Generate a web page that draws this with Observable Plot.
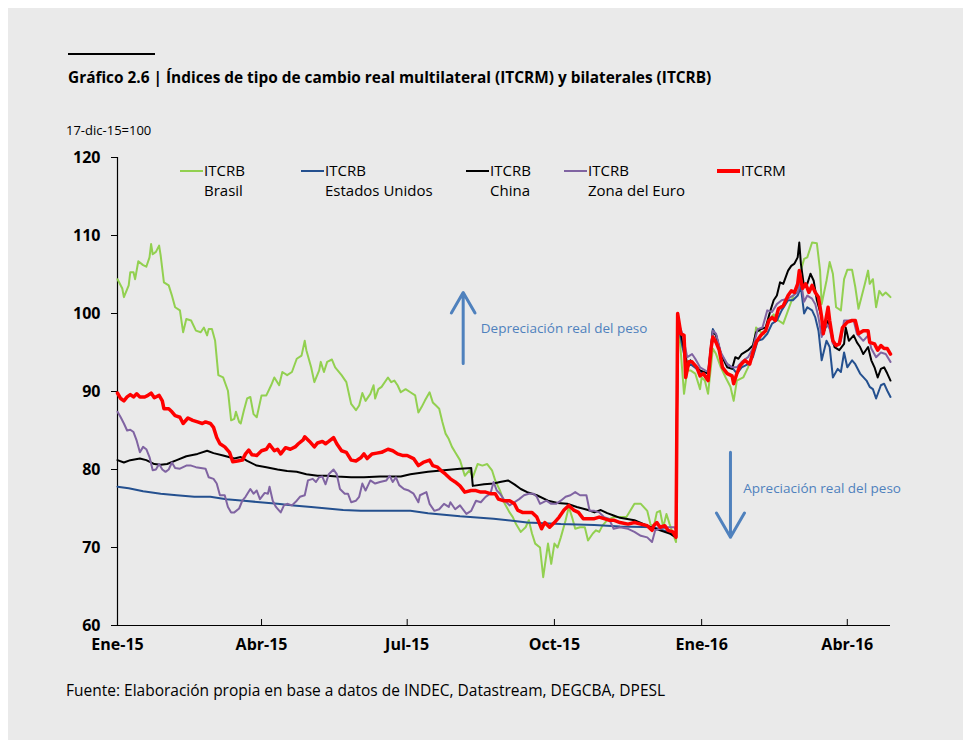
<!DOCTYPE html>
<html>
<head>
<meta charset="utf-8">
<script src="https://cdn.jsdelivr.net/npm/d3@7"></script>
<script src="https://cdn.jsdelivr.net/npm/@observablehq/plot@0.6"></script>
<style>
  html, body { margin: 0; padding: 0; background: #ffffff; }
  body { width: 963px; height: 740px; position: relative; overflow: hidden; font-family: "Open Sans", Lato, sans-serif; color: #000; }
  #panel { position: absolute; left: 8px; top: 8px; right: 0; bottom: 0; background: #eaeaea; }
  .abs { position: absolute; white-space: nowrap; }
  #rule { left: 68px; top: 53px; width: 87px; height: 2px; background: #000; }
  #title { left: 68px; top: 67px; font-size: 15.4px; font-weight: bold; line-height: 22px; }
  #unit { left: 66px; top: 120px; font-size: 13px; line-height: 20px; }
  #source { left: 66px; top: 679px; font-size: 15.5px; line-height: 22px; }
  #chart { position: absolute; left: 0; top: 110px; }
  .sw { position: absolute; height: 2px; width: 23px; }
  .lt { position: absolute; font-size: 15px; line-height: 20px; white-space: nowrap; }
</style>
</head>
<body>
<div id="panel"></div>
<div id="rule" class="abs"></div>
<div id="title" class="abs">Gráfico 2.6 | Índices de tipo de cambio real multilateral (ITCRM) y bilaterales (ITCRB)</div>
<div id="unit" class="abs">17-dic-15=100</div>
<div id="chart"></div>
<div id="legend"></div>
<div id="source" class="abs">Fuente: Elaboración propia en base a datos de INDEC, Datastream, DEGCBA, DPESL</div>
<script>
// ---- Data ----
const tickDates = ["2015-01-01","2015-04-01","2015-07-01","2015-10-01","2016-01-01","2016-04-01"];
const tickLabels = ["Ene-15","Abr-15","Jul-15","Oct-15","Ene-16","Abr-16"];
const yTicks = [60,70,80,90,100,110,120];

const seriesNames = ["ITCRB\nBrasil","ITCRB\nEstados Unidos","ITCRB\nChina","ITCRB\nZona del Euro","ITCRM"];

const brasil = [["2015-01-01",104.4],["2015-01-04",103.2],["2015-01-05",102.1],["2015-01-08",103.6],["2015-01-09",105.3],["2015-01-11",105.3],["2015-01-12",104.4],["2015-01-14",106.7],["2015-01-17",106.2],["2015-01-19",106.0],["2015-01-21",107.2],["2015-01-22",108.9],["2015-01-23",107.6],["2015-01-25",107.9],["2015-01-27",108.7],["2015-01-28",107.4],["2015-01-30",104.0],["2015-02-02",103.6],["2015-02-04",102.3],["2015-02-06",100.8],["2015-02-09",100.4],["2015-02-11",97.6],["2015-02-13",99.3],["2015-02-16",99.1],["2015-02-19",97.8],["2015-02-22",97.6],["2015-02-24",98.2],["2015-02-26",97.2],["2015-02-27",98.0],["2015-03-01",98.0],["2015-03-03",96.5],["2015-03-05",92.1],["2015-03-08",91.8],["2015-03-11",90.1],["2015-03-13",86.3],["2015-03-15",86.5],["2015-03-16",87.4],["2015-03-18",86.1],["2015-03-19",85.9],["2015-03-21",87.6],["2015-03-23",89.1],["2015-03-25",89.3],["2015-03-27",87.1],["2015-03-29",86.7],["2015-04-01",89.5],["2015-04-04",89.5],["2015-04-07",90.8],["2015-04-09",91.8],["2015-04-12",90.8],["2015-04-14",92.5],["2015-04-17",92.1],["2015-04-20",92.5],["2015-04-23",94.2],["2015-04-26",94.6],["2015-04-28",96.5],["2015-04-29",95.3],["2015-05-02",93.1],["2015-05-04",91.2],["2015-05-07",92.7],["2015-05-08",93.8],["2015-05-10",92.5],["2015-05-12",93.8],["2015-05-15",94.1],["2015-05-17",93.1],["2015-05-21",92.1],["2015-05-24",91.2],["2015-05-27",88.4],["2015-05-30",87.6],["2015-06-01",88.2],["2015-06-03",89.8],["2015-06-05",88.8],["2015-06-08",89.7],["2015-06-10",90.8],["2015-06-11",89.1],["2015-06-13",90.3],["2015-06-15",90.6],["2015-06-19",91.8],["2015-06-21",91.2],["2015-06-23",91.4],["2015-06-25",90.8],["2015-06-27",89.9],["2015-06-30",90.3],["2015-07-03",89.9],["2015-07-06",89.5],["2015-07-08",87.3],["2015-07-10",88.0],["2015-07-12",88.8],["2015-07-15",89.9],["2015-07-17",88.6],["2015-07-19",88.2],["2015-07-21",87.8],["2015-07-23",86.1],["2015-07-25",84.6],["2015-07-27",83.9],["2015-07-29",82.9],["2015-07-31",82.2],["2015-08-03",81.2],["2015-08-06",79.2],["2015-08-09",79.9],["2015-08-11",79.0],["2015-08-14",80.7],["2015-08-17",80.5],["2015-08-20",80.7],["2015-08-23",79.9],["2015-08-25",78.6],["2015-08-28",77.3],["2015-08-31",75.6],["2015-09-03",74.5],["2015-09-05",73.9],["2015-09-07",73.0],["2015-09-10",72.0],["2015-09-13",72.6],["2015-09-15",73.5],["2015-09-17",71.8],["2015-09-19",70.5],["2015-09-22",70.0],["2015-09-24",66.2],["2015-09-27",70.5],["2015-09-29",67.9],["2015-10-01",70.5],["2015-10-03",70.0],["2015-10-05",71.3],["2015-10-08",73.5],["2015-10-10",75.2],["2015-10-12",73.9],["2015-10-14",72.4],["2015-10-17",72.6],["2015-10-20",72.6],["2015-10-22",70.9],["2015-10-25",71.8],["2015-10-27",72.2],["2015-10-29",72.0],["2015-10-31",72.8],["2015-11-03",73.5],["2015-11-07",73.9],["2015-11-11",73.9],["2015-11-15",73.9],["2015-11-20",75.6],["2015-11-24",75.6],["2015-11-28",74.7],["2015-11-30",73.0],["2015-12-02",72.6],["2015-12-04",74.5],["2015-12-06",74.7],["2015-12-08",72.6],["2015-12-10",74.3],["2015-12-12",73.0],["2015-12-14",71.8],["2015-12-16",70.7],["2015-12-17",100.0],["2015-12-19",95.0],["2015-12-21",89.7],["2015-12-23",92.7],["2015-12-25",92.7],["2015-12-28",92.3],["2015-12-31",90.3],["2016-01-01",91.8],["2016-01-03",91.4],["2016-01-05",89.7],["2016-01-08",95.5],["2016-01-10",94.8],["2016-01-13",93.1],["2016-01-16",91.8],["2016-01-19",90.6],["2016-01-21",88.8],["2016-01-23",91.4],["2016-01-27",91.8],["2016-01-30",93.1],["2016-02-02",94.8],["2016-02-04",98.2],["2016-02-07",97.6],["2016-02-09",97.4],["2016-02-12",99.1],["2016-02-15",99.9],["2016-02-18",99.1],["2016-02-21",98.7],["2016-02-24",100.4],["2016-02-27",102.1],["2016-03-01",103.4],["2016-03-03",105.5],["2016-03-05",107.0],["2016-03-07",107.2],["2016-03-10",109.1],["2016-03-13",109.0],["2016-03-15",105.5],["2016-03-16",101.2],["2016-03-19",104.2],["2016-03-21",106.6],["2016-03-23",105.1],["2016-03-25",100.8],["2016-03-28",100.4],["2016-03-30",104.4],["2016-04-01",105.6],["2016-04-04",105.6],["2016-04-06",103.4],["2016-04-08",100.6],["2016-04-12",103.8],["2016-04-14",105.5],["2016-04-15",103.8],["2016-04-17",104.4],["2016-04-19",100.8],["2016-04-21",102.9],["2016-04-23",102.3],["2016-04-25",102.7],["2016-04-27",102.3],["2016-04-28",102.1]];

const estadosUnidos = [["2015-01-01",77.8],["2015-01-08",77.6],["2015-01-17",77.2],["2015-01-28",76.9],["2015-02-07",76.7],["2015-02-18",76.5],["2015-02-28",76.5],["2015-03-10",76.2],["2015-03-21",76.0],["2015-03-31",75.8],["2015-04-11",75.6],["2015-04-21",75.4],["2015-05-02",75.2],["2015-05-12",75.0],["2015-05-22",74.8],["2015-06-02",74.7],["2015-07-03",74.7],["2015-07-14",74.4],["2015-08-03",74.0],["2015-08-24",73.7],["2015-09-14",73.2],["2015-10-05",73.0],["2015-10-26",72.9],["2015-11-11",72.7],["2015-12-02",72.6],["2015-12-11",72.0],["2015-12-16",71.3],["2015-12-17",99.0],["2015-12-20",95.7],["2015-12-23",93.1],["2015-12-25",93.5],["2015-12-29",92.9],["2016-01-02",92.3],["2016-01-05",91.8],["2016-01-08",98.0],["2016-01-10",97.2],["2016-01-13",94.8],["2016-01-17",93.5],["2016-01-20",93.1],["2016-01-23",92.3],["2016-01-26",93.1],["2016-01-30",93.5],["2016-02-02",94.4],["2016-02-05",96.5],["2016-02-08",96.7],["2016-02-11",97.4],["2016-02-14",98.7],["2016-02-17",99.1],["2016-02-20",100.4],["2016-02-24",101.7],["2016-02-27",101.7],["2016-03-01",102.3],["2016-03-03",103.4],["2016-03-05",100.0],["2016-03-07",100.8],["2016-03-10",100.4],["2016-03-12",99.5],["2016-03-14",97.8],["2016-03-16",94.0],["2016-03-19",96.5],["2016-03-21",95.7],["2016-03-23",91.8],["2016-03-26",92.9],["2016-03-28",92.5],["2016-03-30",95.0],["2016-04-01",93.1],["2016-04-04",94.0],["2016-04-06",93.5],["2016-04-09",92.3],["2016-04-13",91.4],["2016-04-15",90.6],["2016-04-17",90.3],["2016-04-19",89.1],["2016-04-22",90.8],["2016-04-24",91.0],["2016-04-26",90.1],["2016-04-28",89.3]];

const china = [["2015-01-01",81.2],["2015-01-05",80.9],["2015-01-09",81.2],["2015-01-15",81.4],["2015-01-19",81.2],["2015-01-24",80.7],["2015-01-28",80.6],["2015-02-01",80.7],["2015-02-07",81.2],["2015-02-13",81.7],["2015-02-20",82.0],["2015-02-26",82.4],["2015-03-02",82.1],["2015-03-08",81.8],["2015-03-15",81.4],["2015-03-19",81.6],["2015-03-23",81.1],["2015-03-29",80.5],["2015-04-04",80.3],["2015-04-11",80.0],["2015-04-17",79.8],["2015-04-23",79.7],["2015-04-29",79.4],["2015-05-06",79.2],["2015-05-12",79.2],["2015-05-18",79.1],["2015-05-27",79.0],["2015-06-04",79.0],["2015-06-14",79.1],["2015-06-27",79.1],["2015-07-03",79.4],["2015-07-14",79.7],["2015-07-24",79.9],["2015-08-03",80.1],["2015-08-10",80.2],["2015-08-11",77.9],["2015-08-18",78.1],["2015-08-24",78.2],["2015-08-28",78.4],["2015-09-02",78.6],["2015-09-06",78.1],["2015-09-10",77.5],["2015-09-14",77.1],["2015-09-20",76.7],["2015-09-27",76.0],["2015-10-03",75.7],["2015-10-09",75.6],["2015-10-15",75.2],["2015-10-22",74.8],["2015-10-26",74.5],["2015-10-30",74.8],["2015-11-03",74.4],["2015-11-07",74.1],["2015-11-11",73.8],["2015-11-20",73.5],["2015-11-28",72.8],["2015-12-06",72.2],["2015-12-12",71.8],["2015-12-16",71.3],["2015-12-17",99.1],["2015-12-20",96.5],["2015-12-23",93.5],["2015-12-25",94.0],["2015-12-28",93.3],["2015-12-31",92.7],["2016-01-05",92.3],["2016-01-08",97.8],["2016-01-10",97.2],["2016-01-13",94.8],["2016-01-17",93.1],["2016-01-20",92.9],["2016-01-22",94.4],["2016-01-24",94.2],["2016-01-26",94.8],["2016-01-30",95.3],["2016-02-02",95.9],["2016-02-04",97.6],["2016-02-07",98.0],["2016-02-10",98.2],["2016-02-13",100.4],["2016-02-15",101.7],["2016-02-17",102.3],["2016-02-19",104.0],["2016-02-21",103.8],["2016-02-24",105.5],["2016-02-26",106.1],["2016-02-28",106.4],["2016-03-01",107.2],["2016-03-02",109.1],["2016-03-03",106.4],["2016-03-05",103.4],["2016-03-07",103.8],["2016-03-09",105.1],["2016-03-11",104.2],["2016-03-13",101.7],["2016-03-16",99.5],["2016-03-17",97.4],["2016-03-20",99.1],["2016-03-22",97.8],["2016-03-24",95.7],["2016-03-27",95.3],["2016-03-30",96.1],["2016-03-31",98.2],["2016-04-02",96.5],["2016-04-05",97.2],["2016-04-07",96.3],["2016-04-09",95.7],["2016-04-11",94.8],["2016-04-14",95.7],["2016-04-16",94.0],["2016-04-18",93.1],["2016-04-20",91.8],["2016-04-22",92.9],["2016-04-24",93.1],["2016-04-26",92.3],["2016-04-28",91.4]];

const zonaEuro = [["2015-01-01",87.4],["2015-01-03",86.7],["2015-01-05",85.9],["2015-01-07",85.0],["2015-01-09",85.1],["2015-01-11",84.8],["2015-01-13",83.7],["2015-01-15",82.2],["2015-01-17",82.9],["2015-01-19",82.6],["2015-01-21",81.6],["2015-01-23",79.9],["2015-01-25",80.0],["2015-01-27",80.7],["2015-01-29",80.0],["2015-01-31",79.7],["2015-02-02",80.0],["2015-02-04",80.9],["2015-02-06",80.2],["2015-02-09",80.1],["2015-02-13",80.5],["2015-02-16",80.5],["2015-02-19",80.3],["2015-02-22",80.2],["2015-02-25",80.1],["2015-02-27",79.0],["2015-03-02",78.8],["2015-03-04",78.2],["2015-03-06",76.7],["2015-03-09",76.7],["2015-03-11",75.2],["2015-03-13",74.5],["2015-03-15",74.5],["2015-03-18",75.0],["2015-03-20",76.0],["2015-03-22",76.5],["2015-03-25",77.5],["2015-03-27",76.9],["2015-03-29",77.3],["2015-03-31",76.2],["2015-04-03",77.0],["2015-04-05",76.9],["2015-04-06",77.8],["2015-04-08",76.0],["2015-04-10",75.2],["2015-04-13",74.5],["2015-04-15",75.4],["2015-04-17",75.6],["2015-04-20",75.4],["2015-04-23",76.0],["2015-04-25",76.5],["2015-04-28",76.7],["2015-04-30",78.6],["2015-05-03",78.8],["2015-05-05",78.4],["2015-05-07",79.0],["2015-05-09",79.1],["2015-05-11",78.1],["2015-05-13",79.4],["2015-05-16",80.0],["2015-05-18",79.4],["2015-05-20",77.5],["2015-05-23",76.9],["2015-05-25",76.9],["2015-05-27",75.8],["2015-05-30",76.0],["2015-06-01",76.5],["2015-06-03",78.2],["2015-06-05",77.3],["2015-06-08",78.6],["2015-06-11",78.2],["2015-06-14",78.4],["2015-06-18",78.6],["2015-06-20",79.2],["2015-06-22",78.4],["2015-06-24",79.0],["2015-06-26",78.0],["2015-06-29",77.5],["2015-07-02",77.3],["2015-07-05",76.9],["2015-07-08",75.8],["2015-07-09",76.7],["2015-07-13",77.1],["2015-07-15",75.6],["2015-07-18",74.7],["2015-07-21",74.9],["2015-07-24",75.6],["2015-07-27",75.2],["2015-07-28",75.8],["2015-07-31",74.9],["2015-08-03",75.4],["2015-08-07",74.3],["2015-08-10",74.7],["2015-08-13",76.0],["2015-08-16",75.8],["2015-08-19",76.5],["2015-08-22",76.9],["2015-08-24",78.4],["2015-08-26",77.3],["2015-08-28",76.9],["2015-08-31",76.0],["2015-09-03",75.4],["2015-09-06",75.8],["2015-09-09",76.2],["2015-09-12",76.7],["2015-09-15",76.9],["2015-09-18",76.9],["2015-09-20",76.5],["2015-09-22",75.6],["2015-09-26",76.0],["2015-09-29",75.6],["2015-10-02",75.6],["2015-10-05",76.0],["2015-10-08",76.5],["2015-10-11",76.7],["2015-10-14",77.1],["2015-10-17",76.7],["2015-10-21",76.7],["2015-10-23",74.7],["2015-10-26",74.7],["2015-10-29",74.5],["2015-11-01",73.9],["2015-11-04",73.7],["2015-11-07",72.4],["2015-11-11",72.6],["2015-11-16",72.4],["2015-11-20",72.0],["2015-11-24",71.5],["2015-11-28",71.3],["2015-12-01",70.7],["2015-12-03",72.2],["2015-12-06",72.4],["2015-12-11",72.6],["2015-12-15",72.6],["2015-12-16",72.2],["2015-12-17",99.0],["2015-12-20",97.4],["2015-12-23",94.4],["2015-12-26",94.8],["2015-12-28",94.2],["2015-12-31",93.1],["2016-01-05",92.5],["2016-01-08",97.8],["2016-01-10",97.4],["2016-01-13",95.0],["2016-01-17",93.5],["2016-01-20",93.1],["2016-01-23",93.1],["2016-01-26",93.8],["2016-01-30",94.4],["2016-02-02",95.5],["2016-02-05",98.0],["2016-02-08",98.2],["2016-02-11",100.4],["2016-02-14",100.2],["2016-02-17",101.2],["2016-02-20",101.7],["2016-02-24",101.9],["2016-02-27",102.3],["2016-03-01",102.7],["2016-03-03",104.2],["2016-03-05",101.5],["2016-03-07",102.3],["2016-03-10",101.9],["2016-03-12",101.2],["2016-03-14",99.5],["2016-03-16",97.0],["2016-03-19",98.7],["2016-03-21",98.0],["2016-03-23",96.1],["2016-03-26",95.9],["2016-03-28",96.5],["2016-03-30",99.1],["2016-04-02",99.1],["2016-04-05",99.1],["2016-04-07",97.4],["2016-04-11",96.5],["2016-04-14",97.2],["2016-04-16",95.5],["2016-04-19",94.4],["2016-04-22",95.0],["2016-04-25",94.8],["2016-04-28",93.8]];

const itcrm = [["2015-01-01",89.8],["2015-01-03",89.1],["2015-01-05",88.8],["2015-01-07",89.3],["2015-01-09",89.6],["2015-01-11",89.3],["2015-01-13",89.7],["2015-01-15",89.3],["2015-01-18",89.3],["2015-01-20",89.5],["2015-01-22",89.8],["2015-01-24",89.2],["2015-01-27",89.5],["2015-01-29",88.8],["2015-01-30",87.8],["2015-02-02",87.8],["2015-02-04",87.4],["2015-02-06",86.9],["2015-02-09",86.7],["2015-02-11",85.9],["2015-02-14",86.6],["2015-02-17",86.3],["2015-02-20",86.1],["2015-02-23",85.9],["2015-02-25",86.1],["2015-02-28",85.9],["2015-03-02",85.4],["2015-03-04",84.1],["2015-03-06",83.3],["2015-03-09",82.9],["2015-03-12",82.2],["2015-03-14",81.0],["2015-03-17",81.1],["2015-03-20",81.2],["2015-03-22",82.0],["2015-03-24",82.5],["2015-03-26",81.9],["2015-03-29",81.8],["2015-04-01",82.4],["2015-04-04",82.6],["2015-04-06",83.2],["2015-04-09",82.4],["2015-04-11",82.6],["2015-04-13",82.0],["2015-04-16",82.8],["2015-04-19",82.6],["2015-04-22",82.9],["2015-04-24",83.3],["2015-04-27",83.8],["2015-04-28",84.2],["2015-05-01",83.6],["2015-05-04",82.9],["2015-05-06",83.4],["2015-05-09",83.6],["2015-05-11",83.3],["2015-05-13",83.6],["2015-05-16",84.1],["2015-05-18",83.3],["2015-05-21",82.4],["2015-05-24",82.2],["2015-05-27",81.2],["2015-05-30",81.1],["2015-06-02",81.5],["2015-06-04",82.0],["2015-06-06",81.4],["2015-06-09",82.0],["2015-06-12",82.1],["2015-06-15",82.2],["2015-06-19",82.6],["2015-06-22",82.4],["2015-06-25",82.0],["2015-06-28",81.8],["2015-07-01",81.8],["2015-07-05",81.4],["2015-07-08",80.5],["2015-07-11",80.9],["2015-07-15",81.2],["2015-07-17",80.5],["2015-07-20",80.3],["2015-07-22",79.9],["2015-07-25",79.4],["2015-07-28",78.8],["2015-07-31",78.4],["2015-08-03",77.9],["2015-08-06",77.1],["2015-08-10",77.3],["2015-08-13",77.3],["2015-08-16",77.1],["2015-08-19",77.1],["2015-08-22",76.9],["2015-08-25",76.9],["2015-08-27",76.2],["2015-08-30",76.0],["2015-09-03",76.0],["2015-09-06",75.6],["2015-09-08",74.8],["2015-09-11",74.5],["2015-09-14",74.5],["2015-09-17",74.5],["2015-09-20",73.9],["2015-09-23",72.4],["2015-09-25",73.2],["2015-09-28",72.6],["2015-10-01",73.2],["2015-10-04",73.9],["2015-10-07",74.8],["2015-10-10",75.4],["2015-10-13",74.8],["2015-10-16",74.5],["2015-10-19",73.7],["2015-10-23",73.7],["2015-10-26",73.7],["2015-10-29",73.9],["2015-11-01",73.7],["2015-11-04",73.5],["2015-11-07",73.5],["2015-11-11",73.2],["2015-11-16",73.0],["2015-11-20",73.2],["2015-11-24",73.0],["2015-11-28",72.8],["2015-12-01",72.2],["2015-12-02",72.8],["2015-12-04",73.2],["2015-12-06",72.6],["2015-12-09",72.8],["2015-12-11",72.2],["2015-12-14",72.0],["2015-12-16",71.3],["2015-12-17",100.0],["2015-12-19",97.4],["2015-12-21",97.2],["2015-12-22",91.8],["2015-12-24",93.8],["2015-12-26",93.8],["2015-12-29",93.1],["2015-12-31",92.0],["2016-01-02",92.3],["2016-01-05",91.4],["2016-01-07",95.7],["2016-01-08",97.0],["2016-01-10",96.3],["2016-01-12",95.3],["2016-01-14",93.1],["2016-01-17",92.3],["2016-01-20",92.0],["2016-01-21",91.0],["2016-01-23",92.3],["2016-01-25",93.3],["2016-01-28",94.0],["2016-01-31",93.5],["2016-02-02",95.0],["2016-02-04",96.3],["2016-02-07",97.2],["2016-02-10",97.8],["2016-02-12",99.1],["2016-02-14",99.5],["2016-02-16",99.1],["2016-02-18",100.6],["2016-02-21",101.0],["2016-02-24",102.3],["2016-02-26",102.9],["2016-02-28",102.7],["2016-03-01",103.8],["2016-03-02",105.5],["2016-03-04",103.2],["2016-03-06",103.8],["2016-03-08",102.7],["2016-03-10",103.6],["2016-03-12",102.7],["2016-03-14",102.1],["2016-03-16",99.5],["2016-03-17",97.4],["2016-03-20",100.8],["2016-03-21",99.1],["2016-03-23",96.5],["2016-03-25",95.9],["2016-03-27",96.1],["2016-03-29",98.2],["2016-04-01",98.9],["2016-04-04",99.1],["2016-04-06",99.1],["2016-04-08",97.4],["2016-04-11",97.8],["2016-04-14",97.8],["2016-04-15",96.3],["2016-04-18",96.1],["2016-04-20",95.3],["2016-04-22",95.9],["2016-04-24",95.5],["2016-04-26",95.5],["2016-04-28",94.8]];

// Annotations (data-space anchors)
const annotLabels = ["Depreciación real del peso","Apreciación real del peso"];
const annotTextAt = [["2015-08-16",98.1],["2016-01-27",77.6]];
const annotArrows = [["2015-08-05",93.6,102.7],["2016-01-19",82.2,71.3]];

// ---- Drawing ----
const colors = ["#92d050","#24508f","#000000","#8064a2","#ff0000"];
const widths = [2,2,2,2,3.5];
const allSeries = [brasil, estadosUnidos, china, zonaEuro, itcrm];
const parse = s => new Date(s + "T00:00:00Z");
const blue = "#4f81bd";
const font = "'Open Sans', Lato, sans-serif";

const chart = Plot.plot({
  width: 940,
  height: 560,
  marginLeft: 117,
  marginRight: 50,
  marginTop: 47,
  marginBottom: 45,
  style: {background: "transparent", fontFamily: font, overflow: "visible"},
  x: {type: "utc", domain: [parse("2015-01-01"), parse("2016-04-28")]},
  y: {domain: [60, 120]},
  marks: [
    Plot.axisY({ticks: yTicks, tickSize: 6, tickPadding: 11, tickFormat: d => String(d), fontSize: 16, fontWeight: "bold", fill: "#000", label: null}),
    Plot.axisX({ticks: tickDates.map(parse), tickSize: 0, tickPadding: 13, tickFormat: (d, i) => tickLabels[i], fontSize: 16, fontWeight: "bold", label: null}),
    Plot.ruleX(tickDates.map(parse), {y1: 60, y2: 60 + 6 / 7.8, stroke: "#000", strokeWidth: 1}),
    Plot.ruleY([60], {stroke: "#000", strokeWidth: 1.2}),
    Plot.ruleX([parse("2015-01-01")], {y1: 60, y2: 120, stroke: "#000", strokeWidth: 1.2}),
    ...allSeries.map((s, i) => Plot.line(s, {x: d => parse(d[0]), y: d => d[1], stroke: colors[i], strokeWidth: widths[i], strokeLinejoin: "round"})),
    Plot.arrow(annotArrows, {x1: d => parse(d[0]), x2: d => parse(d[0]), y1: d => d[1], y2: d => d[2], stroke: blue, strokeWidth: 3, headLength: 14, headAngle: 60}),
    Plot.text(annotTextAt, {x: d => parse(d[0]), y: d => d[1], text: (d, i) => annotLabels[i], fill: blue, fontSize: 13.5, textAnchor: "start"})
  ]
});
document.getElementById("chart").appendChild(chart);

// Legend
const legendX = [180, 301, 466, 564, 717];
const legend = document.getElementById("legend");
seriesNames.forEach((name, i) => {
  const sw = document.createElement("div");
  sw.className = "sw";
  sw.style.left = legendX[i] + "px";
  sw.style.top = (i === 4 ? 168.5 : 169.5) + "px";
  sw.style.height = (i === 4 ? 4 : 2) + "px";
  sw.style.background = colors[i];
  legend.appendChild(sw);
  const t = document.createElement("div");
  t.className = "lt";
  t.style.left = (legendX[i] + 24) + "px";
  t.style.top = "160px";
  t.innerHTML = name.split("\n").join("<br>");
  legend.appendChild(t);
});
</script>
</body>
</html>
